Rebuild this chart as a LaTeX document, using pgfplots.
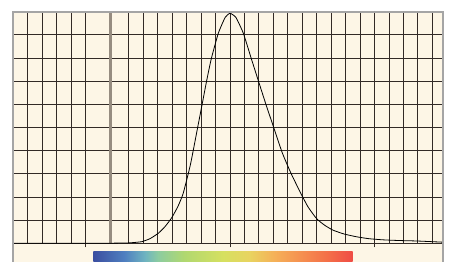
\documentclass[border=0pt]{standalone}
\usepackage{pgfplots}
\pgfplotsset{compat=1.18}
\definecolor{cream}{RGB}{253,246,230}
\definecolor{gridc}{RGB}{50,42,38}
\definecolor{framec}{RGB}{165,165,165}
\definecolor{thickc}{RGB}{150,140,128}
\definecolor{c0}{RGB}{59,78,160}
\definecolor{c1}{RGB}{79,127,192}
\definecolor{c2}{RGB}{111,180,192}
\definecolor{c3}{RGB}{140,204,160}
\definecolor{c4}{RGB}{176,216,112}
\definecolor{c5}{RGB}{214,224,96}
\definecolor{c6}{RGB}{232,212,96}
\definecolor{c7}{RGB}{245,176,88}
\definecolor{c8}{RGB}{245,144,80}
\definecolor{c9}{RGB}{244,112,72}
\definecolor{c10}{RGB}{239,76,69}
\pgfdeclarehorizontalshading{spec}{100bp}{color(0bp)=(c0); color(25bp)=(c0); color(31bp)=(c1); color(35bp)=(c2); color(37.5bp)=(c3); color(42.5bp)=(c4); color(50bp)=(c5); color(55bp)=(c6); color(60bp)=(c7); color(65bp)=(c8); color(70bp)=(c9); color(75bp)=(c10); color(100bp)=(c10)}
\begin{document}
\begin{tikzpicture}
\useasboundingbox (-13.3bp,-18.7bp) rectangle (435.7bp,243.3bp);
\fill[cream] (0,-18.7bp) rectangle (429.4bp,231.6bp);
\shade[shading=spec] (80bp,-18.7bp) rectangle (339.4bp,-8.4bp);
\begin{axis}[
  scale only axis, width=429.4bp, height=231.6bp,
  at={(0,0)}, anchor=south west,
  xmin=0, xmax=29.72, ymin=0, ymax=10,
  axis line style={draw=none},
  xtick={0,1,2,3,4,5,8,9,10,11,12,13,14,15,16,17,18,19,20,21,22,23,24,25,26,27,28,29},
  ytick={0,1,2,3,4,5,6,7,8,9,10},
  xticklabels={}, yticklabels={},
  grid=major,
  major grid style={draw=gridc, line width=0.85bp},
  major tick length=0pt,
  tick pos=left,
  extra x ticks={0,5,15,25},
  extra x tick labels={},
  extra x tick style={grid=none, major tick length=4bp, tick align=outside, major tick style={draw=gridc, line width=0.85bp}},
  clip=false
]
\addplot[draw=thickc, line width=2.6bp] coordinates {(6.74,0) (6.74,10)};
\addplot[black, line width=0.8bp, smooth, tension=0.3] coordinates {
(0,0) (3.2,0) (6.0,0) (7.38,0.01) (8.08,0.02) (8.89,0.07) (9.46,0.2)
(10.03,0.43) (10.5,0.72) (10.96,1.1) (11.4,1.6) (11.76,2.16) (12.26,3.4) (12.75,4.97)
(13.06,5.97) (13.37,6.98) (13.70,7.96) (14.19,9.07) (14.66,9.75)
(15.0,9.93) (15.41,9.75) (15.92,9.07) (16.48,7.96) (16.98,6.98)
(17.50,5.97) (18.04,4.97) (18.62,3.9) (19.2,3.05) (19.84,2.23)
(20.4,1.57) (21.0,1.06) (21.55,0.78) (22.12,0.57) (22.9,0.4) (23.77,0.28) (24.6,0.2)
(25.58,0.15) (26.7,0.12) (27.92,0.1) (29.67,0.05)
};
\end{axis}
\draw[framec, line width=1.8bp] (0,-18.7bp) -- (0,231.6bp) -- (429.4bp,231.6bp) -- (429.4bp,-18.7bp);
\end{tikzpicture}
\end{document}
